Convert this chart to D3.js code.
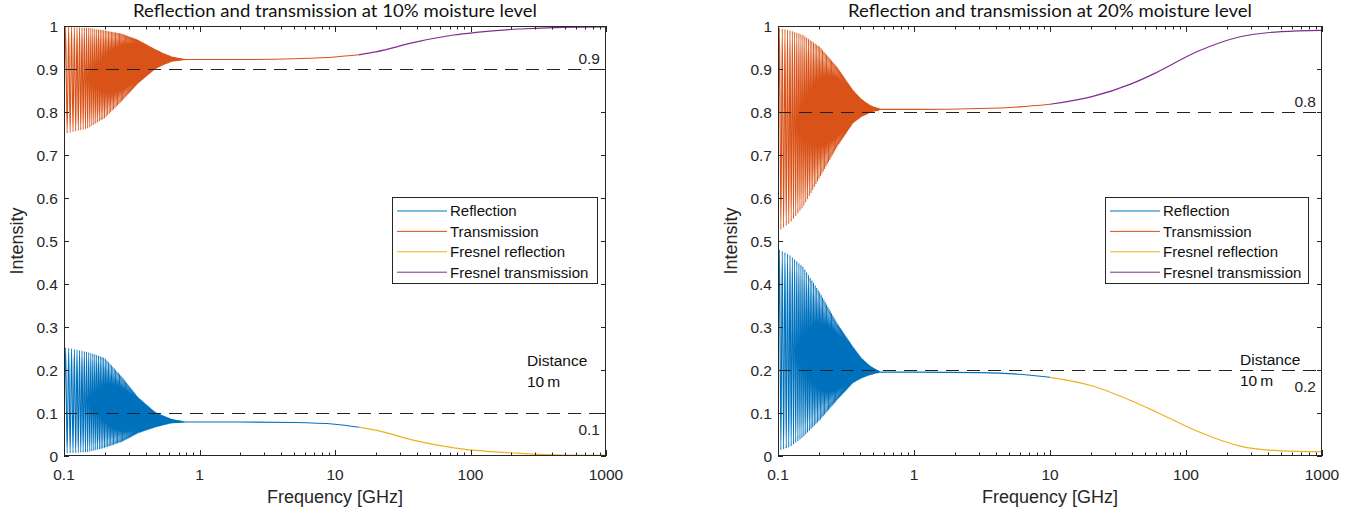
<!DOCTYPE html>
<html>
<head>
<meta charset="utf-8">
<script src="https://cdn.jsdelivr.net/npm/d3@7"></script>
<style>
  body { margin: 0; background: #fff; }
  svg { display: block; }
  text { font-family: "Liberation Sans", Arial, sans-serif; fill: #262626; }
</style>
</head>
<body>
<svg id="fig" width="1354" height="517"></svg>
<script>
// ---------- text ----------
const titles = [
  "Reflection and transmission at 10% moisture level",
  "Reflection and transmission at 20% moisture level"
];
const xAxisLabel = "Frequency [GHz]";
const yAxisLabel = "Intensity";
const legendLabels = ["Reflection", "Transmission", "Fresnel reflection", "Fresnel transmission"];
const seriesColors = ["#0072BD", "#D95319", "#EDB120", "#7E2F8E"];
const distanceLabel = ["Distance", "10\u2009m"];

// ---------- ticks ----------
const xTickValues = [0.1, 1, 10, 100, 1000];
const xTickLabels = ["0.1", "1", "10", "100", "1000"];
const yTickValues = [0, 0.1, 0.2, 0.3, 0.4, 0.5, 0.6, 0.7, 0.8, 0.9, 1];
const yTickLabels = ["0", "0.1", "0.2", "0.3", "0.4", "0.5", "0.6", "0.7", "0.8", "0.9", "1"];

// ---------- 10 % moisture ----------
// interference envelope (upper / lower extremes of the fringes)
const envFreq10      = [0.1,   0.15,  0.2,   0.268, 0.351, 0.47,  0.55,  0.626, 0.78];
const reflUpper10    = [0.253, 0.242, 0.228, 0.184, 0.137, 0.102, 0.092, 0.085, 0.079];
const reflLower10    = [0.006, 0.009, 0.019, 0.033, 0.053, 0.067, 0.073, 0.077, 0.079];
const transUpper10   = [0.998, 0.996, 0.990, 0.982, 0.968, 0.946, 0.935, 0.928, 0.922];
const transLower10   = [0.749, 0.762, 0.786, 0.826, 0.866, 0.900, 0.911, 0.918, 0.922];
const fringeStep10   = 0.0055;  // GHz between fringe minima
// settled values once the fringes have died out
const plateauFreq10  = [0.78,  1,     2,     5,     10,    15];
const reflPlateau10  = [0.079, 0.079, 0.079, 0.078, 0.074, 0.067];
const transPlateau10 = [0.922, 0.922, 0.922, 0.924, 0.928, 0.933];
// Fresnel coefficients at high frequency
const fresnelFreq10  = [15,    20,    40,    75,    110,   230,   480,   1000];
const fresnelRefl10  = [0.067, 0.060, 0.035, 0.019, 0.013, 0.006, 0.002, 0.0015];
const fresnelTrans10 = [0.933, 0.940, 0.963, 0.979, 0.985, 0.993, 0.997, 0.998];
const levels10       = [0.9, 0.1];
const levelLabels10  = ["0.9", "0.1"];

// ---------- 20 % moisture ----------
const envFreq20      = [0.1,   0.1225, 0.153, 0.204, 0.272, 0.356, 0.41,  0.475, 0.56];
const reflUpper20    = [0.482, 0.467,  0.440, 0.379, 0.309, 0.254, 0.228, 0.209, 0.196];
const reflLower20    = [0.012, 0.021,  0.044, 0.084, 0.130, 0.170, 0.181, 0.189, 0.195];
const transUpper20   = [0.996, 0.990,  0.979, 0.951, 0.905, 0.851, 0.830, 0.815, 0.807];
const transLower20   = [0.522, 0.542,  0.579, 0.649, 0.719, 0.774, 0.789, 0.799, 0.805];
const fringeStep20   = 0.005;
const plateauFreq20  = [0.56,  1,     3,     6,     10];
const reflPlateau20  = [0.195, 0.195, 0.194, 0.190, 0.183];
const transPlateau20 = [0.806, 0.806, 0.808, 0.812, 0.818];
const fresnelFreq20  = [10,    20,    40,    60,    120,   250,   500,   1000];
const fresnelRefl20  = [0.183, 0.164, 0.128, 0.103, 0.058, 0.023, 0.012, 0.010];
const fresnelTrans20 = [0.818, 0.835, 0.866, 0.891, 0.940, 0.975, 0.987, 0.990];
const levels20       = [0.8, 0.2];
const levelLabels20  = ["0.8", "0.2"];

// ---------- figure ----------
const svg = d3.select("#fig");
const axisColor = "#262626";
const yTop = 26, yBottom = 456;

const panels = [
  {
    title: titles[0], x0: 64, x1: 606,
    env: { freq: envFreq10, rUp: reflUpper10, rLo: reflLower10, tUp: transUpper10, tLo: transLower10 },
    step: fringeStep10,
    plateau: { freq: plateauFreq10, r: reflPlateau10, t: transPlateau10 },
    fresnel: { freq: fresnelFreq10, r: fresnelRefl10, t: fresnelTrans10 },
    levels: levels10, levelLabels: levelLabels10,
    legend: { x: 392, y: 197, w: 205, h: 86 },
    note: { x: 527, y: 366 },
    ylabelX: 23
  },
  {
    title: titles[1], x0: 778, x1: 1322,
    env: { freq: envFreq20, rUp: reflUpper20, rLo: reflLower20, tUp: transUpper20, tLo: transLower20 },
    step: fringeStep20,
    plateau: { freq: plateauFreq20, r: reflPlateau20, t: transPlateau20 },
    fresnel: { freq: fresnelFreq20, r: fresnelRefl20, t: fresnelTrans20 },
    levels: levels20, levelLabels: levelLabels20,
    legend: { x: 1105, y: 197, w: 203, h: 86 },
    note: { x: 1240, y: 365 },
    ylabelX: 737
  }
];

// Alternate between the upper and lower envelope every half fringe,
// then continue along the settled values.
function fringeTrace(freq, upper, lower, step, platFreq, platVals) {
  const up = d3.scaleLog().domain(freq).range(upper).clamp(true);
  const lo = d3.scaleLog().domain(freq).range(lower).clamp(true);
  const pts = [];
  const fEnd = freq[freq.length - 1];
  for (let k = 0; ; k++) {
    const f = freq[0] + k * step / 2;
    if (f >= fEnd) break;
    pts.push([f, k % 2 === 0 ? lo(f) : up(f)]);
  }
  platFreq.forEach((f, i) => pts.push([f, platVals[i]]));
  return pts;
}

panels.forEach(p => {
  const x = d3.scaleLog().domain([0.1, 1000]).range([p.x0, p.x1]);
  const y = d3.scaleLinear().domain([0, 1]).range([yBottom, yTop]);
  const g = svg.append("g");

  const clipId = "clip" + p.x0;
  svg.append("clipPath").attr("id", clipId)
    .append("rect").attr("x", p.x0).attr("y", yTop).attr("width", p.x1 - p.x0).attr("height", yBottom - yTop);

  const line = d3.line().x(d => x(d[0])).y(d => y(d[1])).curve(d3.curveMonotoneX);
  const plot = g.append("g").attr("clip-path", `url(#${clipId})`);

  const refl = fringeTrace(p.env.freq, p.env.rUp, p.env.rLo, p.step, p.plateau.freq, p.plateau.r);
  const trans = fringeTrace(p.env.freq, p.env.tUp, p.env.tLo, p.step, p.plateau.freq, p.plateau.t);
  const fresR = p.fresnel.freq.map((f, i) => [f, p.fresnel.r[i]]);
  const fresT = p.fresnel.freq.map((f, i) => [f, p.fresnel.t[i]]);

  [refl, trans, fresR, fresT].forEach((d, i) => {
    plot.append("path").datum(d)
      .attr("fill", "none")
      .attr("stroke", seriesColors[i])
      .attr("stroke-width", i < 2 ? 1.1 : 1.2)
      .attr("d", line);
  });

  // reference levels
  p.levels.forEach((lv, i) => {
    g.append("line")
      .attr("x1", p.x0).attr("x2", p.x1)
      .attr("y1", Math.round(y(lv)) + 0.5).attr("y2", Math.round(y(lv)) + 0.5)
      .attr("stroke", "#222").attr("stroke-width", 1)
      .attr("stroke-dasharray", "13,8");
    g.append("text")
      .attr("x", p.x1 - 6)
      .attr("y", i === 0 ? y(lv) - 5 : y(lv) + 22)
      .attr("text-anchor", "end")
      .style("font-size", "15.5px")
      .text(p.levelLabels[i]);
  });

  // distance note
  distanceLabel.forEach((t, i) => {
    g.append("text").attr("x", p.note.x).attr("y", p.note.y + i * 21)
      .style("font-size", "15.5px").style("fill", "#111").text(t);
  });

  // axes box
  g.append("rect")
    .attr("x", p.x0 + 0.5).attr("y", yTop + 0.5)
    .attr("width", p.x1 - p.x0 - 1).attr("height", yBottom - yTop - 1)
    .attr("fill", "none").attr("stroke", axisColor).attr("stroke-width", 1);

  // x ticks (inward, top and bottom)
  const allX = x.ticks();
  allX.forEach(v => {
    const major = xTickValues.some(m => Math.abs(m - v) < 1e-9);
    const len = major ? 6 : 3.5;
    const xp = Math.round(x(v)) + 0.5;
    g.append("line").attr("x1", xp).attr("x2", xp)
      .attr("y1", yBottom).attr("y2", yBottom - len).attr("stroke", axisColor);
    g.append("line").attr("x1", xp).attr("x2", xp)
      .attr("y1", yTop).attr("y2", yTop + len).attr("stroke", axisColor);
  });
  xTickValues.forEach((v, i) => {
    g.append("text").attr("x", x(v)).attr("y", yBottom + 24)
      .attr("text-anchor", "middle").style("font-size", "15.5px")
      .text(xTickLabels[i]);
  });

  // y ticks (inward, left and right)
  yTickValues.forEach((v, i) => {
    const yp = Math.round(y(v)) + 0.5;
    g.append("line").attr("x1", p.x0).attr("x2", p.x0 + 5)
      .attr("y1", yp).attr("y2", yp).attr("stroke", axisColor);
    g.append("line").attr("x1", p.x1).attr("x2", p.x1 - 5)
      .attr("y1", yp).attr("y2", yp).attr("stroke", axisColor);
    g.append("text").attr("x", p.x0 - 6).attr("y", y(v)).attr("dy", "0.36em")
      .attr("text-anchor", "end").style("font-size", "15.5px")
      .text(yTickLabels[i]);
  });

  // axis labels and title
  g.append("text").attr("x", (p.x0 + p.x1) / 2).attr("y", 503)
    .attr("text-anchor", "middle").style("font-size", "18px").text(xAxisLabel);
  g.append("text").attr("transform", `translate(${p.ylabelX},${(yTop + yBottom) / 2}) rotate(-90)`)
    .attr("text-anchor", "middle").style("font-size", "18px").text(yAxisLabel);
  g.append("text").attr("x", (p.x0 + p.x1) / 2).attr("y", 17)
    .attr("text-anchor", "middle")
    .attr("textLength", 404).attr("lengthAdjust", "spacingAndGlyphs")
    .style("font-family", "Lato, 'Open Sans', sans-serif")
    .style("font-size", "17px").style("fill", "#111")
    .text(p.title);

  // legend
  const lg = g.append("g");
  lg.append("rect")
    .attr("x", p.legend.x + 0.5).attr("y", p.legend.y + 0.5)
    .attr("width", p.legend.w).attr("height", p.legend.h)
    .attr("fill", "#fff").attr("stroke", axisColor).attr("stroke-width", 1);
  legendLabels.forEach((lab, i) => {
    const cy = p.legend.y + 14 + i * 20.4;
    lg.append("line")
      .attr("x1", p.legend.x + 5).attr("x2", p.legend.x + 55)
      .attr("y1", cy).attr("y2", cy)
      .attr("stroke", seriesColors[i]).attr("stroke-width", 1);
    lg.append("text").attr("x", p.legend.x + 58).attr("y", cy).attr("dy", "0.36em")
      .style("font-size", "15px").style("fill", "#111").text(lab);
  });
});
</script>
</body>
</html>
